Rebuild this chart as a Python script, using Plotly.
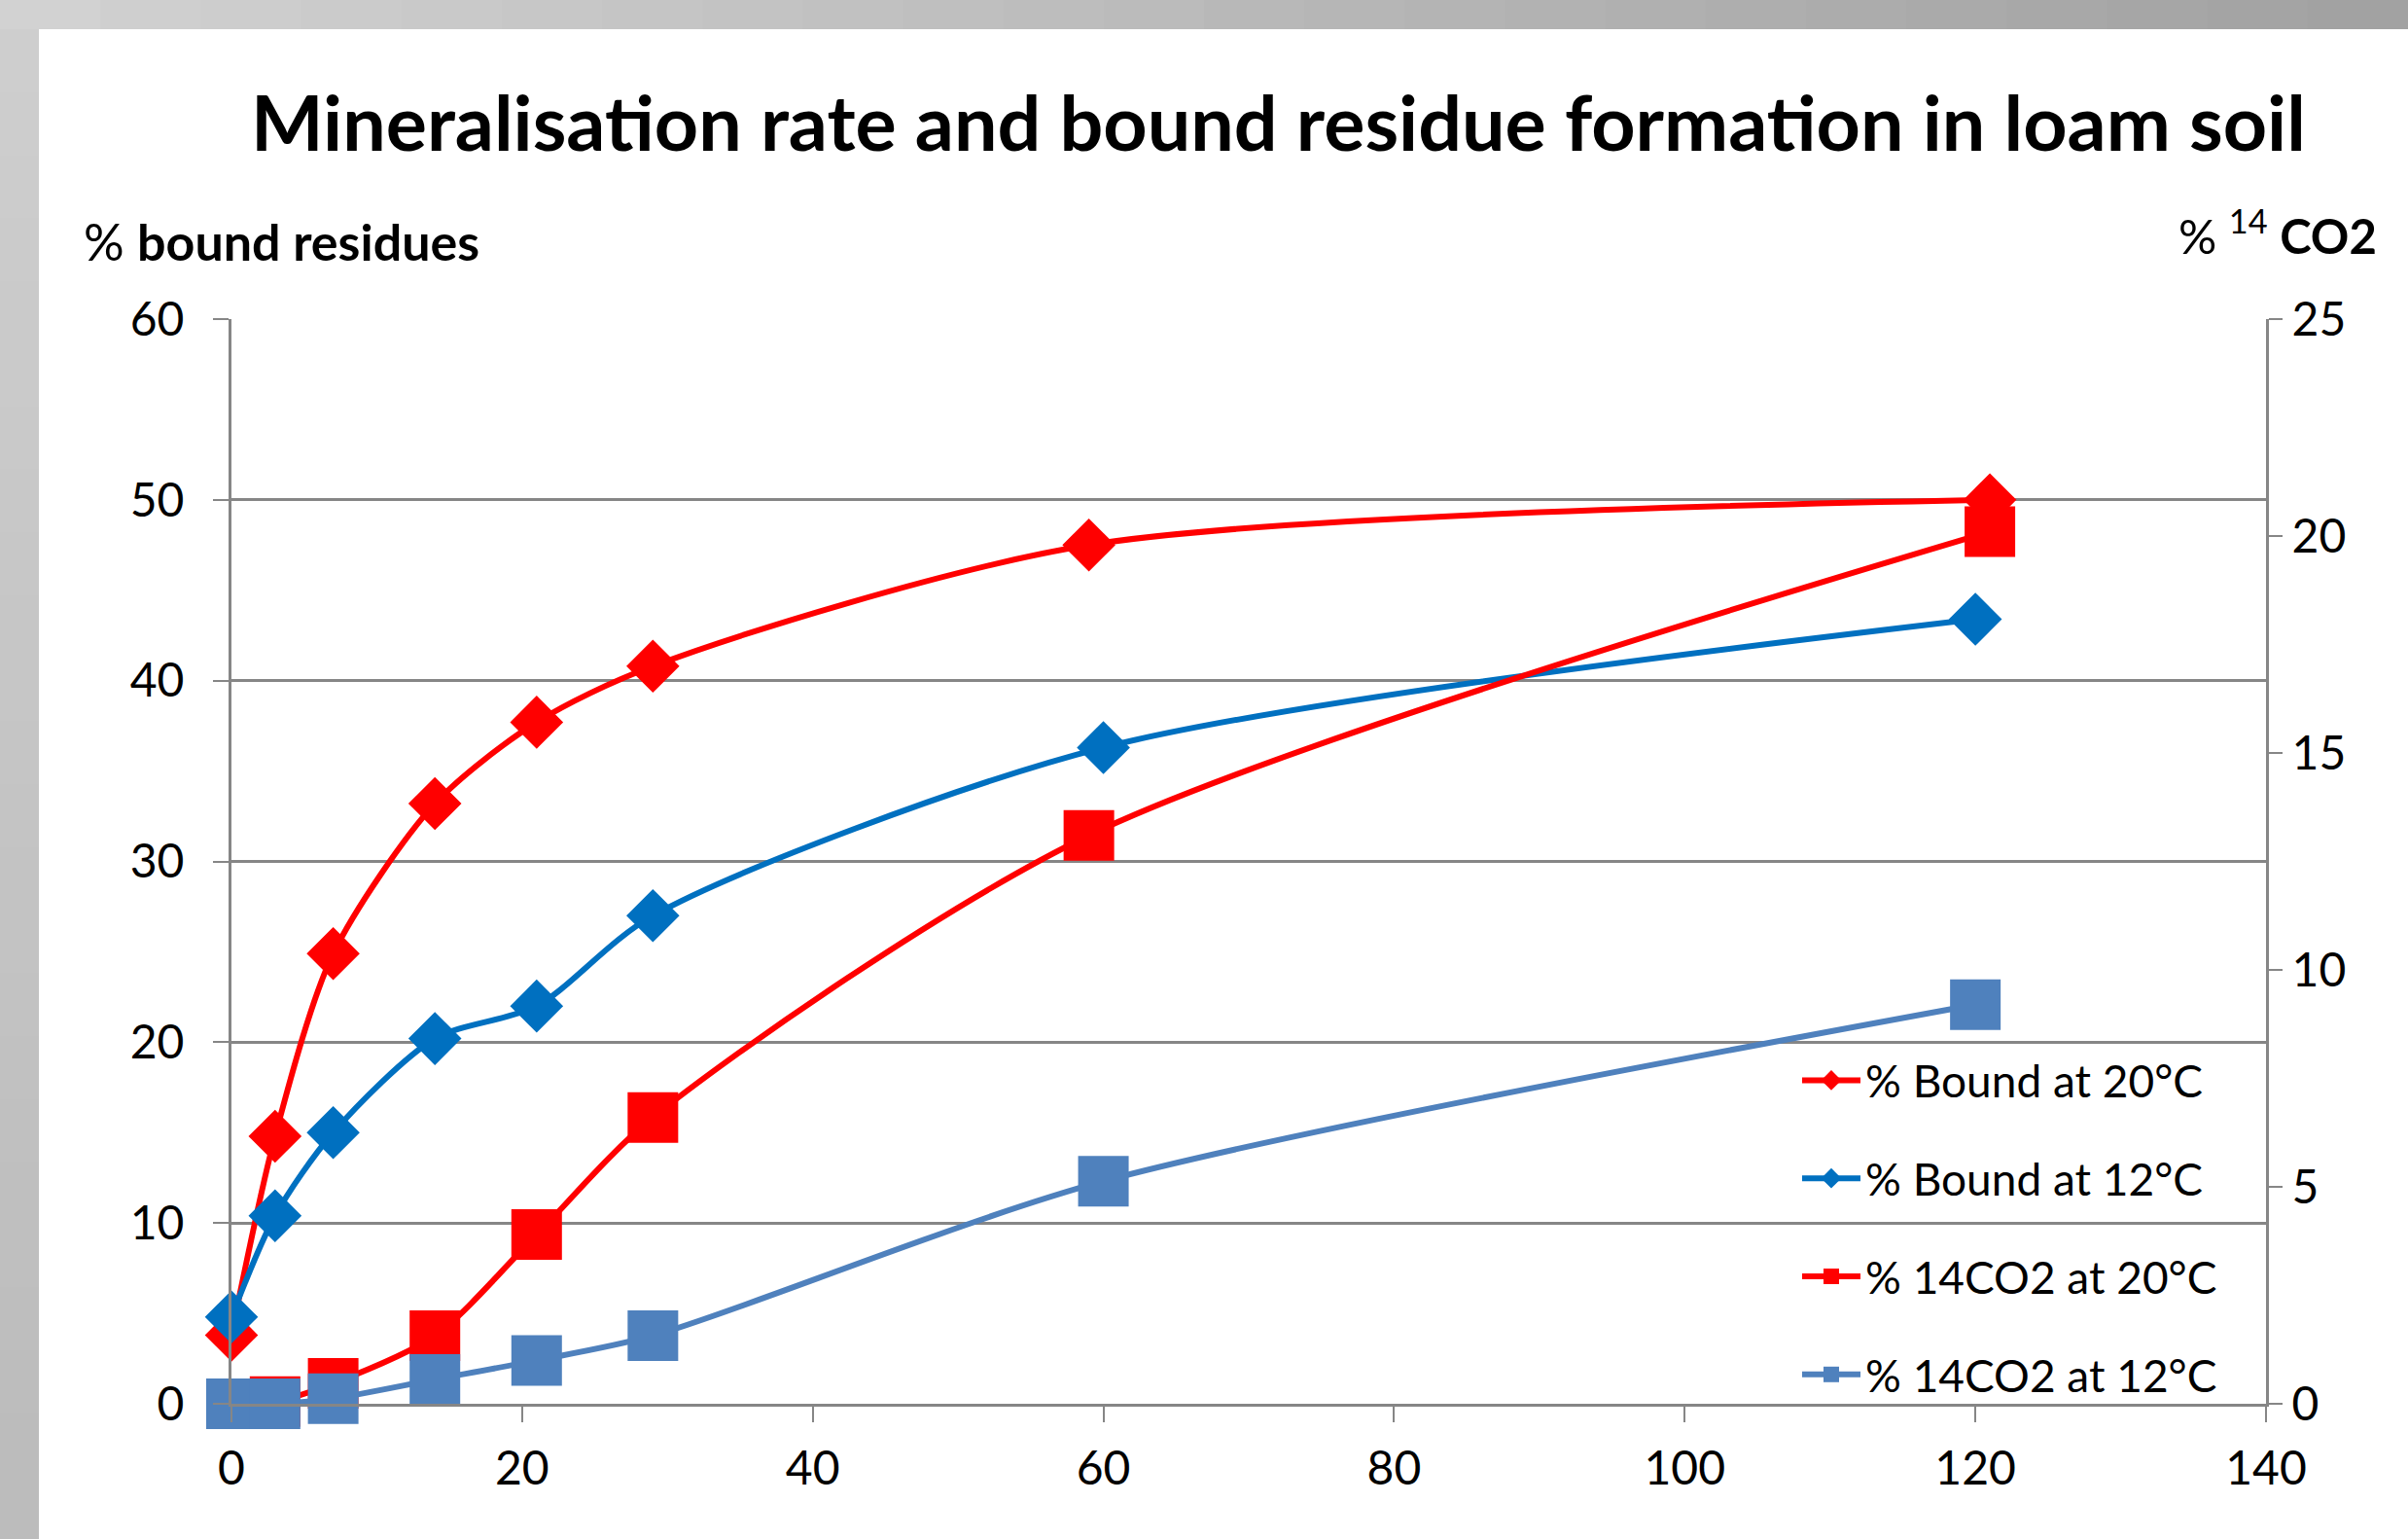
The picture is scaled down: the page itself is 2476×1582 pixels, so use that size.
import plotly.graph_objects as go

# ---- data ----
days_20 = [0, 3, 7, 14, 21, 29, 59, 121]
days_12 = [0, 3, 7, 14, 21, 29, 60, 120]
bound_20 = [3.8, 14.8, 24.9, 33.2, 37.7, 40.8, 47.5, 50.0]
bound_12 = [4.8, 10.4, 15.0, 20.2, 22.0, 27.0, 36.3, 43.4]
co2_20 = [0.0, 0.05, 0.47, 1.57, 3.9, 6.6, 13.1, 20.1]
co2_12 = [0.0, 0.0, 0.12, 0.56, 1.0, 1.57, 5.13, 9.2]

x_ticks = [0, 20, 40, 60, 80, 100, 120, 140]
left_ticks = [0, 10, 20, 30, 40, 50, 60]
right_ticks = [0, 5, 10, 15, 20, 25]

names = ["% Bound at 20°C", "% Bound at 12°C", "% 14CO2 at 20°C", "% 14CO2 at 12°C"]
title_text = "<b>Mineralisation rate and bound residue formation in loam soil</b>"

RED = "#FF0000"
BLUE_D = "#0070C0"
BLUE_S = "#4F81BD"
GRID = "#868686"
FONT = "Lato"

W, H = 2476, 1582
L, R, T, B = 238, 2330, 328, 1443  # plot area in px


def px(x):
    return (x - L) / (R - L)


def py(y):
    return (B - y) / (B - T)


fig = go.Figure()

fig.add_trace(go.Scatter(x=days_20, y=bound_20, name=names[0], mode="lines+markers",
                         line=dict(color=RED, width=6, shape="spline", smoothing=0.8),
                         marker=dict(symbol="diamond", size=42, color=RED),
                         cliponaxis=False, legendgroup="a"))
fig.add_trace(go.Scatter(x=days_12, y=bound_12, name=names[1], mode="lines+markers",
                         line=dict(color=BLUE_D, width=6, shape="spline", smoothing=0.8),
                         marker=dict(symbol="diamond", size=42, color=BLUE_D),
                         cliponaxis=False, legendgroup="b"))
fig.add_trace(go.Scatter(x=days_20, y=co2_20, name=names[2], mode="lines+markers", yaxis="y2",
                         line=dict(color=RED, width=6, shape="spline", smoothing=0.8),
                         marker=dict(symbol="square", size=52, color=RED),
                         cliponaxis=False, legendgroup="c"))
fig.add_trace(go.Scatter(x=days_12, y=co2_12, name=names[3], mode="lines+markers", yaxis="y2",
                         line=dict(color=BLUE_S, width=6, shape="spline", smoothing=0.8),
                         marker=dict(symbol="square", size=52, color=BLUE_S),
                         cliponaxis=False, legendgroup="d"))

# background frame: grey border with white card
shapes = []
n = 24
for i in range(n):
    x0 = i * W / n
    x1 = (i + 1) * W / n
    g = int(0xD2 - (0xD2 - 0xA2) * i / (n - 1))
    col = f"rgb({g},{g},{g})"
    shapes.append(dict(type="rect", xref="paper", yref="paper", layer="below",
                       x0=px(x0), x1=px(x1 + 1), y0=py(30), y1=py(0),
                       fillcolor=col, line=dict(width=0)))
for i in range(n):
    y0 = 30 + i * (H - 30) / n
    y1 = 30 + (i + 1) * (H - 30) / n
    g = int(0xCE - (0xCE - 0xBC) * i / (n - 1))
    col = f"rgb({g},{g},{g})"
    shapes.append(dict(type="rect", xref="paper", yref="paper", layer="below",
                       x0=px(0), x1=px(40), y0=py(y1 + 1), y1=py(y0),
                       fillcolor=col, line=dict(width=0)))
shapes.append(dict(type="rect", xref="paper", yref="paper", layer="below",
                   x0=px(40), x1=px(W), y0=py(H), y1=py(30),
                   fillcolor="white", line=dict(width=0)))

fig.update_layout(
    width=W, height=H,
    margin=dict(l=L, r=W - R, t=T, b=H - B),
    paper_bgcolor="white",
    plot_bgcolor="rgba(0,0,0,0)",
    font=dict(family=FONT, size=48, color="black"),
    showlegend=True,
    legend=dict(x=px(1848), y=py(1074), xanchor="left", yanchor="top",
                bgcolor="rgba(0,0,0,0)", font=dict(size=46, family=FONT),
                tracegroupgap=38, itemwidth=60),
    xaxis=dict(range=[0, 140], tickvals=x_ticks, ticktext=[str(v) for v in x_ticks],
               showgrid=False, zeroline=False, showline=True, linecolor=GRID, linewidth=3,
               mirror=False, ticks="outside", ticklen=16, tickwidth=2, tickcolor=GRID,
               tickfont=dict(size=48, family=FONT), ticklabelstandoff=6, fixedrange=True),
    yaxis=dict(range=[0, 60], tickvals=left_ticks, ticktext=[str(v) for v in left_ticks],
               showgrid=True, gridcolor=GRID, gridwidth=3, zeroline=False,
               showline=True, linecolor=GRID, linewidth=3,
               ticks="outside", ticklen=16, tickwidth=2, tickcolor=GRID,
               tickfont=dict(size=48, family=FONT), ticklabelstandoff=20),
    yaxis2=dict(range=[0, 25], tickvals=right_ticks, ticktext=[str(v) for v in right_ticks],
                overlaying="y", side="right", showgrid=False, zeroline=False,
                showline=True, linecolor=GRID, linewidth=3,
                ticks="outside", ticklen=14, tickwidth=2, tickcolor=GRID,
                tickfont=dict(size=48, family=FONT), ticklabelstandoff=0),
    shapes=shapes,
    annotations=[
        dict(text=title_text, xref="paper", yref="paper", x=px(1314), y=py(124),
             xanchor="center", yanchor="middle", showarrow=False,
             font=dict(size=79, family=FONT, color="black")),
        dict(text="% <b>bound residues</b>", xref="paper", yref="paper", x=px(84), y=py(248),
             xanchor="left", yanchor="middle", showarrow=False,
             font=dict(size=52, family=FONT, color="black")),
        dict(text="% <sup>14</sup> <b>CO2</b>", xref="paper", yref="paper", x=px(2446), y=py(238),
             xanchor="right", yanchor="middle", showarrow=False,
             font=dict(size=49, family=FONT, color="black")),
    ],
)

fig.write_html("out.html", config={"displayModeBar": False},
               post_script="document.body.style.margin='0';")
